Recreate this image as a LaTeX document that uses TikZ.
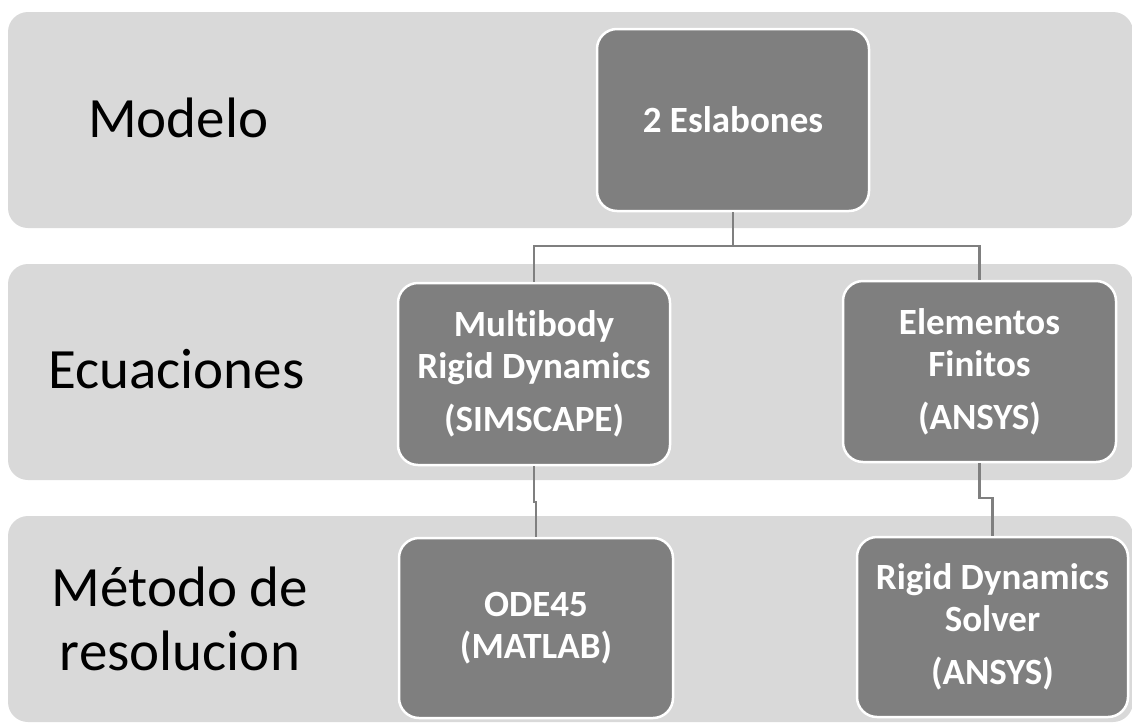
\documentclass[tikz,border=0pt]{standalone}
\usepackage{fontspec}
\setmainfont[Ligatures={NoCommon}]{Carlito}
\definecolor{bandgray}{HTML}{D9D9D9}
\definecolor{boxgray}{HTML}{7F7F7F}
\definecolor{linegray}{HTML}{7F7F7F}
\tikzset{
  band/.style={fill=bandgray, draw=none, rounded corners=20pt},
  boxnode/.style={rectangle, rounded corners=20pt, fill=boxgray, draw=white,
    line width=2.5pt, text=white, align=center, inner sep=0pt,
    font={\fontsize{37}{42}\selectfont\bfseries}},
  rowlabel/.style={text=black, inner sep=0pt, font={\fontsize{57}{64}\selectfont}},
  conn/.style={draw=linegray, line width=2.2pt}
}
\begin{document}
\begin{tikzpicture}[x=1pt, y=-1pt]
\useasboundingbox (0,0) rectangle (1132,726);
% bands
\fill[band] (8,12) rectangle (1133,228);
\fill[band] (8,264) rectangle (1133,480);
\fill[band] (8,516) rectangle (1133,722);
% row labels
\node[rowlabel, anchor=base west] (l1) at (88,137) {Modelo};
\node[rowlabel, anchor=base west] (l2) at (48,388) {Ecuaciones};
\node[rowlabel, align=center] (l3) at (180,619) {Método de\\resolucion};
% boxes
\node[boxnode, minimum width=272pt, minimum height=182pt] (b1) at (733,120) {2 Eslabones};
\node[boxnode, minimum width=272pt, minimum height=182pt] (b2) at (534,374) {Multibody\\Rigid Dynamics\\[11pt](SIMSCAPE)};
\node[boxnode, minimum width=273pt, minimum height=181pt] (b3) at (979.5,371.5) {Elementos\\Finitos\\[11pt](ANSYS)};
\node[boxnode, minimum width=274pt, minimum height=180pt] (b4) at (536,628) {ODE45\\(MATLAB)};
\node[boxnode, minimum width=271pt, minimum height=180pt] (b5) at (992.5,627) {Rigid Dynamics\\Solver\\[11pt](ANSYS)};
% junctions
\coordinate (j1) at (733,246);
\coordinate (j2) at (534,502);
\coordinate (j3) at (979.5,498);
% connectors
\draw[conn] (b1.south) -- (j1) -| (b2.north);
\draw[conn] (j1) -| (b3.north);
\draw[conn] (b2.south) -- (j2) -| (b4.north);
\draw[conn] (b3.south) -- (j3) -| (b5.north);
\end{tikzpicture}
\end{document}
